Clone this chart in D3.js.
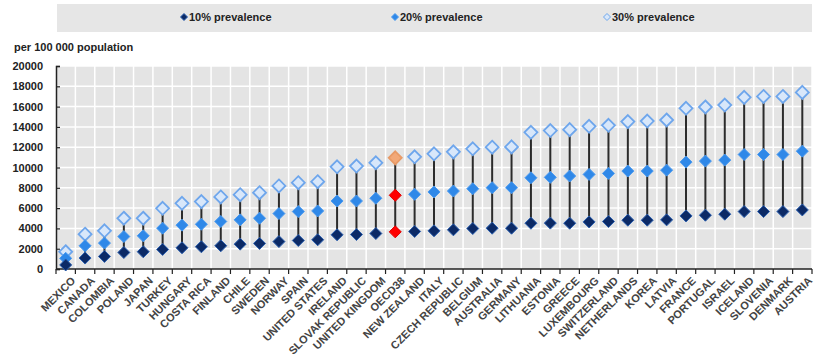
<!DOCTYPE html>
<html>
<head>
<meta charset="utf-8">
<script src="https://cdn.jsdelivr.net/npm/d3@7"></script>
<style>
  html, body { margin: 0; padding: 0; background: #fff; }
  svg { display: block; }
  text { font-family: "Liberation Sans Narrow", "Arial Narrow", "Liberation Sans", sans-serif; }
</style>
</head>
<body>
<svg id="chart" width="818" height="356"></svg>
<script>
const countries = ["MEXICO","CANADA","COLOMBIA","POLAND","JAPAN","TURKEY","HUNGARY","COSTA RICA","FINLAND","CHILE","SWEDEN","NORWAY","SPAIN","UNITED STATES","IRELAND","SLOVAK REPUBLIC","UNITED KINGDOM","OECD38","NEW ZEALAND","ITALY","CZECH REPUBLIC","BELGIUM","AUSTRALIA","GERMANY","LITHUANIA","ESTONIA","GREECE","LUXEMBOURG","SWITZERLAND","NETHERLANDS","KOREA","LATVIA","FRANCE","PORTUGAL","ISRAEL","ICELAND","SLOVENIA","DENMARK","AUSTRIA"];
const prev10 = [400,1080,1240,1630,1700,1930,2090,2190,2290,2450,2520,2700,2810,2880,3370,3400,3500,3660,3700,3760,3860,3990,4020,4020,4510,4520,4510,4640,4680,4810,4810,4840,5230,5300,5400,5660,5660,5660,5820];
const prev20 = [1050,2290,2550,3200,3270,4020,4320,4410,4680,4840,5000,5460,5660,5720,6700,6700,6970,7260,7360,7590,7680,7910,8010,8010,8990,9030,9160,9320,9420,9650,9650,9740,10530,10630,10730,11280,11280,11280,11610];
const prev30 = [1700,3430,3760,5000,5000,5980,6470,6640,7100,7320,7520,8180,8500,8600,10070,10140,10460,10950,11050,11350,11540,11840,12000,12030,13470,13640,13730,14060,14160,14520,14580,14680,15830,15960,16150,16910,17000,17000,17400];
const yTicks = [0,2000,4000,6000,8000,10000,12000,14000,16000,18000,20000];
const seriesNames = ["10% prevalence","20% prevalence","30% prevalence"];
const yLabel = "per 100 000 population";
const highlight = "OECD38";

const svg = d3.select("#chart");
const m = {left: 56, right: 812, top: 66, bottom: 269};

const x = d3.scaleBand().domain(countries).range([m.left, m.right]).padding(0);
const y = d3.scaleLinear().domain([0, 20000]).range([m.bottom, m.top]);

const styles = [
  {fill: "#0c2a66", stroke: "#2a5fb0", hfill: "#ff0000", hstroke: "#e00000"},
  {fill: "#2f88e8", stroke: "#4a9af0", hfill: "#ff0000", hstroke: "#e00000"},
  {fill: "#d8e7fa", stroke: "#6ea6ec", hfill: "#f2a877", hstroke: "#e89a66"}
];

// legend
svg.append("rect").attr("x", 57).attr("y", 4).attr("width", 755).attr("height", 28).attr("fill", "#e6e6e6");
const legendX = [184, 395, 607];
function diamond(r) { return `M0,${-r}L${r},0L0,${r}L${-r},0Z`; }
seriesNames.forEach((n, i) => {
  svg.append("path").attr("d", diamond(3.5)).attr("transform", `translate(${legendX[i]},17)`)
    .attr("fill", styles[i].fill).attr("stroke", styles[i].stroke).attr("stroke-width", 1);
  svg.append("text").attr("x", legendX[i] + 5).attr("y", 21).attr("font-size", 11).attr("font-weight", "bold")
    .attr("fill", "#222").text(n);
});

// plot background
svg.append("rect").attr("x", m.left).attr("y", m.top).attr("width", m.right - m.left).attr("height", m.bottom - m.top).attr("fill", "#e4e4e4");

// gridlines
svg.append("g").selectAll("line").data(yTicks.slice(1)).join("line")
  .attr("x1", m.left).attr("x2", m.right).attr("y1", d => y(d)).attr("y2", d => y(d))
  .attr("stroke", "#fff").attr("stroke-width", 1.5);
svg.append("g").selectAll("line").data(countries.slice(1)).join("line")
  .attr("x1", d => x(d)).attr("x2", d => x(d)).attr("y1", m.top).attr("y2", m.bottom)
  .attr("stroke", "#fff").attr("stroke-width", 1.5);
svg.append("line").attr("x1", m.right).attr("x2", m.right).attr("y1", m.top).attr("y2", m.bottom).attr("stroke", "#fff").attr("stroke-width", 1.5);

// y axis
const yAxis = svg.append("g").attr("transform", `translate(${m.left},0)`)
  .call(d3.axisLeft(y).tickValues(yTicks).tickSize(-4).tickPadding(13).tickFormat(d3.format("d")));
yAxis.select(".domain").attr("stroke", "#222").attr("stroke-width", 1.5);
yAxis.selectAll(".tick line").attr("stroke", "#222").attr("stroke-width", 1.2);
yAxis.selectAll(".tick text").attr("font-size", 11).attr("font-weight", "bold").attr("fill", "#222")
  .attr("font-family", '"Liberation Sans Narrow", "Arial Narrow", sans-serif');

svg.append("text").attr("x", 14).attr("y", 51).attr("font-size", 11).attr("font-weight", "bold").attr("fill", "#222").text(yLabel);

// x axis
const xAxisG = svg.append("g").attr("transform", `translate(0,${m.bottom})`);
xAxisG.append("line").attr("x1", m.left).attr("x2", m.right).attr("stroke", "#222").attr("stroke-width", 1.5);
xAxisG.selectAll("line.tk").data(countries.map(c => x(c)).concat([m.right])).join("line").attr("class", "tk")
  .attr("x1", d => d).attr("x2", d => d).attr("y1", 0).attr("y2", 5).attr("stroke", "#222").attr("stroke-width", 1.2);
xAxisG.selectAll("text").data(countries).join("text")
  .attr("transform", d => `translate(${x(d) + x.bandwidth() / 2 + 5},${7}) rotate(-45)`)
  .attr("text-anchor", "end").attr("dy", "0.7em").attr("font-size", 11).attr("font-weight", "bold").attr("fill", "#444")
  .text(d => d);

// range lines
const cx = d => x(d) + x.bandwidth() / 2;
svg.append("g").selectAll("line").data(countries).join("line")
  .attr("x1", cx).attr("x2", cx)
  .attr("y1", (d, i) => y(prev10[i])).attr("y2", (d, i) => y(prev30[i]))
  .attr("stroke", "#2b2b2b").attr("stroke-width", 2);

// markers
const allSeries = [prev10, prev20, prev30];
const radii = [6, 6, 6.5];
[2, 1, 0].forEach(si => {
  const vals = allSeries[si];
  svg.append("g").selectAll("path").data(countries).join("path")
    .attr("d", diamond(radii[si]))
    .attr("transform", (d, i) => `translate(${cx(d)},${y(vals[i])})`)
    .attr("fill", d => d === highlight ? styles[si].hfill : styles[si].fill)
    .attr("stroke", d => d === highlight ? styles[si].hstroke : styles[si].stroke)
    .attr("stroke-width", si === 2 ? 1.8 : 1);
});
</script>
</body>
</html>
